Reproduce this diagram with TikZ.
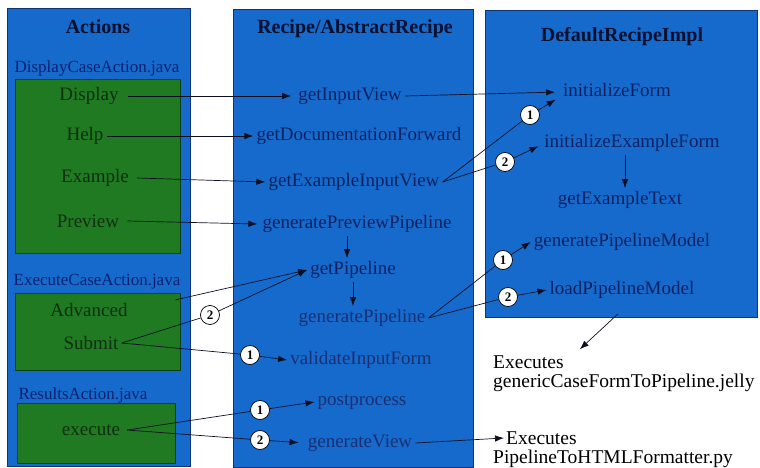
\documentclass[tikz,border=0pt]{standalone}
\usepackage{fontspec}
\setmainfont{Liberation Serif}[Ligatures=TeX]
\newfontfamily\diagramfont{Liberation Serif}
\usetikzlibrary{arrows.meta,calc}

\definecolor{panelblue}{RGB}{22,106,204}
\definecolor{panelgreen}{RGB}{32,122,34}
\definecolor{paneledge}{RGB}{12,52,120}
\definecolor{greenedge}{RGB}{14,62,22}
\definecolor{titleink}{RGB}{10,16,46}
\definecolor{fileink}{RGB}{12,34,112}
\definecolor{actionink}{RGB}{16,46,18}
\definecolor{methodink}{RGB}{14,34,98}
\definecolor{fadedink}{RGB}{26,48,116}
\definecolor{wireink}{RGB}{14,16,34}

\pgfdeclarelayer{panels}
\pgfdeclarelayer{wires}
\pgfsetlayers{panels,wires,main}

\tikzset{
  every node/.style={font=\diagramfont},
  panel/.style={draw=paneledge, line width=0.8pt, fill=panelblue},
  actionbox/.style={draw=greenedge, line width=0.6pt, fill=panelgreen},
  title/.style={font=\diagramfont\fontsize{20}{22}\selectfont\bfseries, text=titleink, inner sep=2pt},
  filelabel/.style={font=\diagramfont\fontsize{17}{19}\selectfont, text=fileink, inner sep=2pt},
  action/.style={font=\diagramfont\fontsize{19}{21}\selectfont, text=actionink, inner sep=3pt},
  method/.style={font=\diagramfont\fontsize{19}{21}\selectfont, text=methodink, inner sep=3pt},
  faded/.style={font=\diagramfont\fontsize{19}{21}\selectfont, text=fadedink, inner sep=3pt},
  plain/.style={font=\diagramfont\fontsize{19.5}{21}\selectfont, text=black, inner sep=2pt, anchor=west},
  order/.style={circle, draw=black, line width=0.7pt, fill=white, inner sep=0pt,
                minimum size=19pt, font=\diagramfont\fontsize{13}{14}\selectfont\bfseries},
  wire/.style={draw=wireink, line width=0.7pt},
  call/.style={wire, -{Latex[length=9pt,width=6.5pt]}},
}

\begin{document}
\begin{tikzpicture}[x=1pt, y=-1pt]
\useasboundingbox (0,0) rectangle (760,468);

\begin{pgfonlayer}{panels}
% three columns
\draw[panel] (7,8) rectangle (190,466);
\draw[panel] (233,9) rectangle (473,467);
\draw[panel] (485,10) rectangle (757,317);
% action classes
\draw[actionbox] (15,79) rectangle (180,253);
\draw[actionbox] (15,293) rectangle (180,370);
\draw[actionbox] (17,403) rectangle (175,463);
\end{pgfonlayer}

% headings
\node[title] (tact) at (98,27) {Actions};
\node[title] (trec) at (355,29) {Recipe/AbstractRecipe};
\node[title] (tdef) at (622,37) {DefaultRecipeImpl};

\node[filelabel] (fdca) at (97,68) {DisplayCaseAction.java};
\node[filelabel] (feca) at (97,282) {ExecuteCaseAction.java};
\node[filelabel] (fra) at (83,395) {ResultsAction.java};

% actions
\node[action] (disp) at (89,96) {Display};
\node[action] (help) at (85,136) {Help};
\node[action] (exam) at (95,178) {Example};
\node[action] (prev) at (88,221) {Preview};
\node[action] (adv) at (89,310) {Advanced};
\node[action] (subm) at (91,343) {Submit};
\node[action] (exe) at (91,430) {execute};

% recipe methods
\node[method] (giv) at (350,96) {getInputView};
\node[method] (gdf) at (359,136) {getDocumentationForward};
\node[method] (geiv) at (354,182) {getExampleInputView};
\node[method] (gpp) at (357,224) {generatePreviewPipeline};
\node[method] (gp) at (353,270) {getPipeline};
\node[faded] (gpl) at (362,318) {generatePipeline};
\node[faded] (vif) at (361,360) {validateInputForm};
\node[faded] (pp) at (362,402) {postprocess};
\node[faded] (gv) at (360,443) {generateView};

% default implementation
\node[method] (ifm) at (617,90) {initializeForm};
\node[method] (iefm) at (632,143) {initializeExampleForm};
\node[method] (get) at (620,200) {getExampleText};
\node[method] (gpm) at (622,242) {generatePipelineModel};
\node[method] (lpm) at (622,290) {loadPipelineModel};

% external scripts
\node[plain] (exa) at (491,362) {Executes};
\node[plain] (exb) at (491,383) {genericCaseFormToPipeline.jelly};
\node[plain] (exc) at (504,438) {Executes};
\node[plain] (exd) at (491,459) {PipelineToHTMLFormatter.py};

% ordering markers
\node[order] (c2a) at (210,315) {2};
\node[order] (c1a) at (250,355) {1};
\node[order] (c1b) at (260,410) {1};
\node[order] (c2b) at (260,440) {2};
\node[order] (c1c) at (530,115) {1};
\node[order] (c2c) at (505,162) {2};
\node[order] (c1d) at (503,260) {1};
\node[order] (c2d) at (508,297) {2};

\begin{pgfonlayer}{wires}
% calls from the actions
\draw[call] ([xshift=6pt]disp.east) -- ([xshift=-4pt]giv.west);
\draw[call] (help.east) -- (gdf.west);
\draw[call] ([xshift=5pt]exam.east) -- (geiv.west);
\draw[call] ([xshift=5pt]prev.east) -- ([xshift=-2pt]gpp.west);
\draw[call, shorten <=46pt] (adv.east) -- (gp.west);
\draw[wire] (subm.east) -- (c2a);
\draw[call] (c2a) -- (gp.west);
\draw[wire] (subm.east) -- (c1a);
\draw[call] (c1a) -- (vif.west);
\draw[wire] ([xshift=4pt]exe.east) -- (c1b);
\draw[call] (c1b) -- (pp.west);
\draw[wire] ([xshift=4pt]exe.east) -- (c2b);
\draw[call, shorten >=6pt] (c2b) -- (gv.west);

% calls inside the recipe
\draw[call] ([xshift=-10pt]gpp.south) -- ([xshift=-6pt]gp.north);
\draw[call] (gp.south) -- (gp.south |- gpl.north);

% calls into the default implementation
\draw[call, shorten >=5pt] (giv.east) -- ([yshift=-2pt]ifm.west);
\draw[wire] (geiv.east) -- (c1c);
\draw[call, shorten >=5pt] (c1c) -- ([yshift=-7pt]ifm.west);
\draw[wire] (geiv.east) -- (c2c);
\draw[call, shorten >=3pt] (c2c) -- ([yshift=-2pt]iefm.west);
\draw[call] ([xshift=-7pt]iefm.south) -- ([xshift=5pt]get.north);
\draw[wire] (gpl.east) -- (c1d);
\draw[call] (c1d) -- (gpm.west);
\draw[wire] (gpl.east) -- (c2d);
\draw[call] (c2d) -- (lpm.west);

% hand-off to the external scripts
\draw[call] ([xshift=-4pt,yshift=-12pt]lpm.south) -- ([xshift=14pt,yshift=4pt]exa.north east);
\draw[call] (gv.east) -- (exc.west);
\end{pgfonlayer}
\end{tikzpicture}
\end{document}
